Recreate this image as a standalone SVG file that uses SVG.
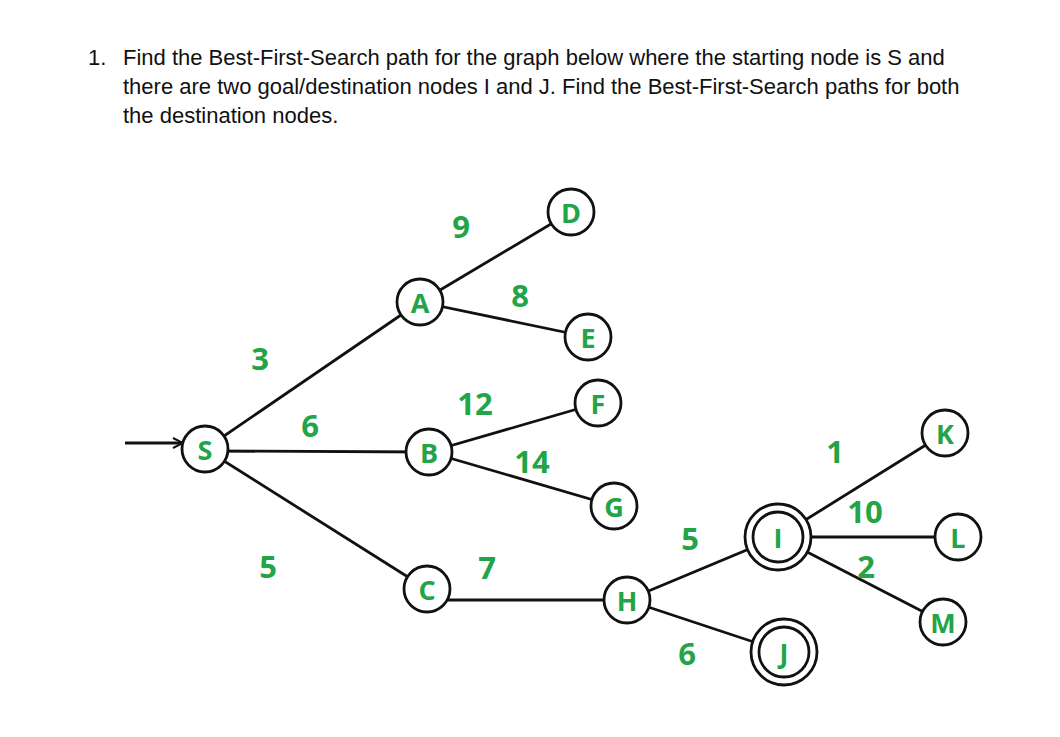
<svg xmlns="http://www.w3.org/2000/svg" width="1060" height="737" viewBox="0 0 1060 737">
<defs>
<style>
.title{font-family:"Liberation Sans",Arial,sans-serif;font-size:22px;fill:#111}
.edge{stroke:#111;stroke-width:2.8;fill:none}
.node{fill:#fff;stroke:#111;stroke-width:2.8}
.nl{font-family:"Open Sans","DejaVu Sans",sans-serif;font-weight:bold;font-size:27px;fill:#22a447;text-anchor:middle;dominant-baseline:central}
.el{font-family:"Open Sans","DejaVu Sans",sans-serif;font-weight:bold;font-size:31px;fill:#22a447;text-anchor:middle;dominant-baseline:central}
</style>
<marker id="chev" viewBox="0 0 12 12" refX="11" refY="6" markerWidth="12" markerHeight="12" markerUnits="userSpaceOnUse" orient="auto">
<path d="M1,1 L11,6 L1,11" fill="none" stroke="#111" stroke-width="2"/>
</marker>
</defs>
<rect width="1060" height="737" fill="#fff"/>
<g id="title">
<text class="title" x="88" y="65">1.</text>
<text class="title" x="123" y="65">Find the Best-First-Search path for the graph below where the starting node is S and</text>
<text class="title" x="123" y="94">there are two goal/destination nodes I and J. Find the Best-First-Search paths for both</text>
<text class="title" x="123" y="123">the destination nodes.</text>
</g>
<g id="connectors">
<line class="edge" x1="125" y1="443" x2="183" y2="443" marker-end="url(#chev)"/>
<line class="edge" x1="205" y1="449" x2="420" y2="302"/>
<line class="edge" x1="205" y1="451" x2="429" y2="452"/>
<line class="edge" x1="205" y1="449" x2="427" y2="589"/>
<line class="edge" x1="420" y1="302" x2="571" y2="212"/>
<line class="edge" x1="420" y1="302" x2="588" y2="337"/>
<line class="edge" x1="429" y1="452" x2="598" y2="403"/>
<line class="edge" x1="429" y1="452" x2="614" y2="506"/>
<line class="edge" x1="448" y1="600" x2="627" y2="600"/>
<line class="edge" x1="627" y1="600" x2="778" y2="537"/>
<line class="edge" x1="627" y1="600" x2="784" y2="652"/>
<line class="edge" x1="778" y1="537" x2="945" y2="433"/>
<line class="edge" x1="778" y1="537" x2="958" y2="537"/>
<line class="edge" x1="778" y1="537" x2="943" y2="622"/>
</g>
<g id="edge-labels">
<text class="el" x="461" y="226">9</text>
<text class="el" x="520" y="295">8</text>
<text class="el" x="260" y="358">3</text>
<text class="el" x="475" y="403">12</text>
<text class="el" x="310" y="425">6</text>
<text class="el" x="532" y="461">14</text>
<text class="el" x="835" y="451">1</text>
<text class="el" x="865" y="511">10</text>
<text class="el" x="690" y="538">5</text>
<text class="el" x="268" y="566">5</text>
<text class="el" x="487" y="567">7</text>
<text class="el" x="866" y="566">2</text>
<text class="el" x="687" y="653">6</text>
</g>
<g id="node-S"><circle class="node" cx="205" cy="449" r="23"/><text class="nl" x="205" y="449">S</text></g>
<g id="node-A"><circle class="node" cx="420" cy="302" r="23"/><text class="nl" x="420" y="302">A</text></g>
<g id="node-B"><circle class="node" cx="429" cy="452" r="23"/><text class="nl" x="429" y="452">B</text></g>
<g id="node-C"><circle class="node" cx="427" cy="589" r="23"/><text class="nl" x="427" y="589">C</text></g>
<g id="node-D"><circle class="node" cx="571" cy="212" r="23"/><text class="nl" x="571" y="212">D</text></g>
<g id="node-E"><circle class="node" cx="588" cy="337" r="23"/><text class="nl" x="588" y="337">E</text></g>
<g id="node-F"><circle class="node" cx="598" cy="403" r="23"/><text class="nl" x="598" y="403">F</text></g>
<g id="node-G"><circle class="node" cx="614" cy="506" r="23"/><text class="nl" x="614" y="506">G</text></g>
<g id="node-H"><circle class="node" cx="627" cy="600" r="23"/><text class="nl" x="627" y="600">H</text></g>
<g id="node-I"><circle class="node" cx="778" cy="537" r="33"/><circle class="node" cx="778" cy="537" r="25"/><text class="nl" x="778" y="537">I</text></g>
<g id="node-J"><circle class="node" cx="784" cy="652" r="33"/><circle class="node" cx="784" cy="652" r="25"/><text class="nl" x="784" y="652">J</text></g>
<g id="node-K"><circle class="node" cx="945" cy="433" r="23"/><text class="nl" x="945" y="433">K</text></g>
<g id="node-L"><circle class="node" cx="958" cy="537" r="23"/><text class="nl" x="958" y="537">L</text></g>
<g id="node-M"><circle class="node" cx="943" cy="622" r="23"/><text class="nl" x="943" y="622">M</text></g>
</svg>
